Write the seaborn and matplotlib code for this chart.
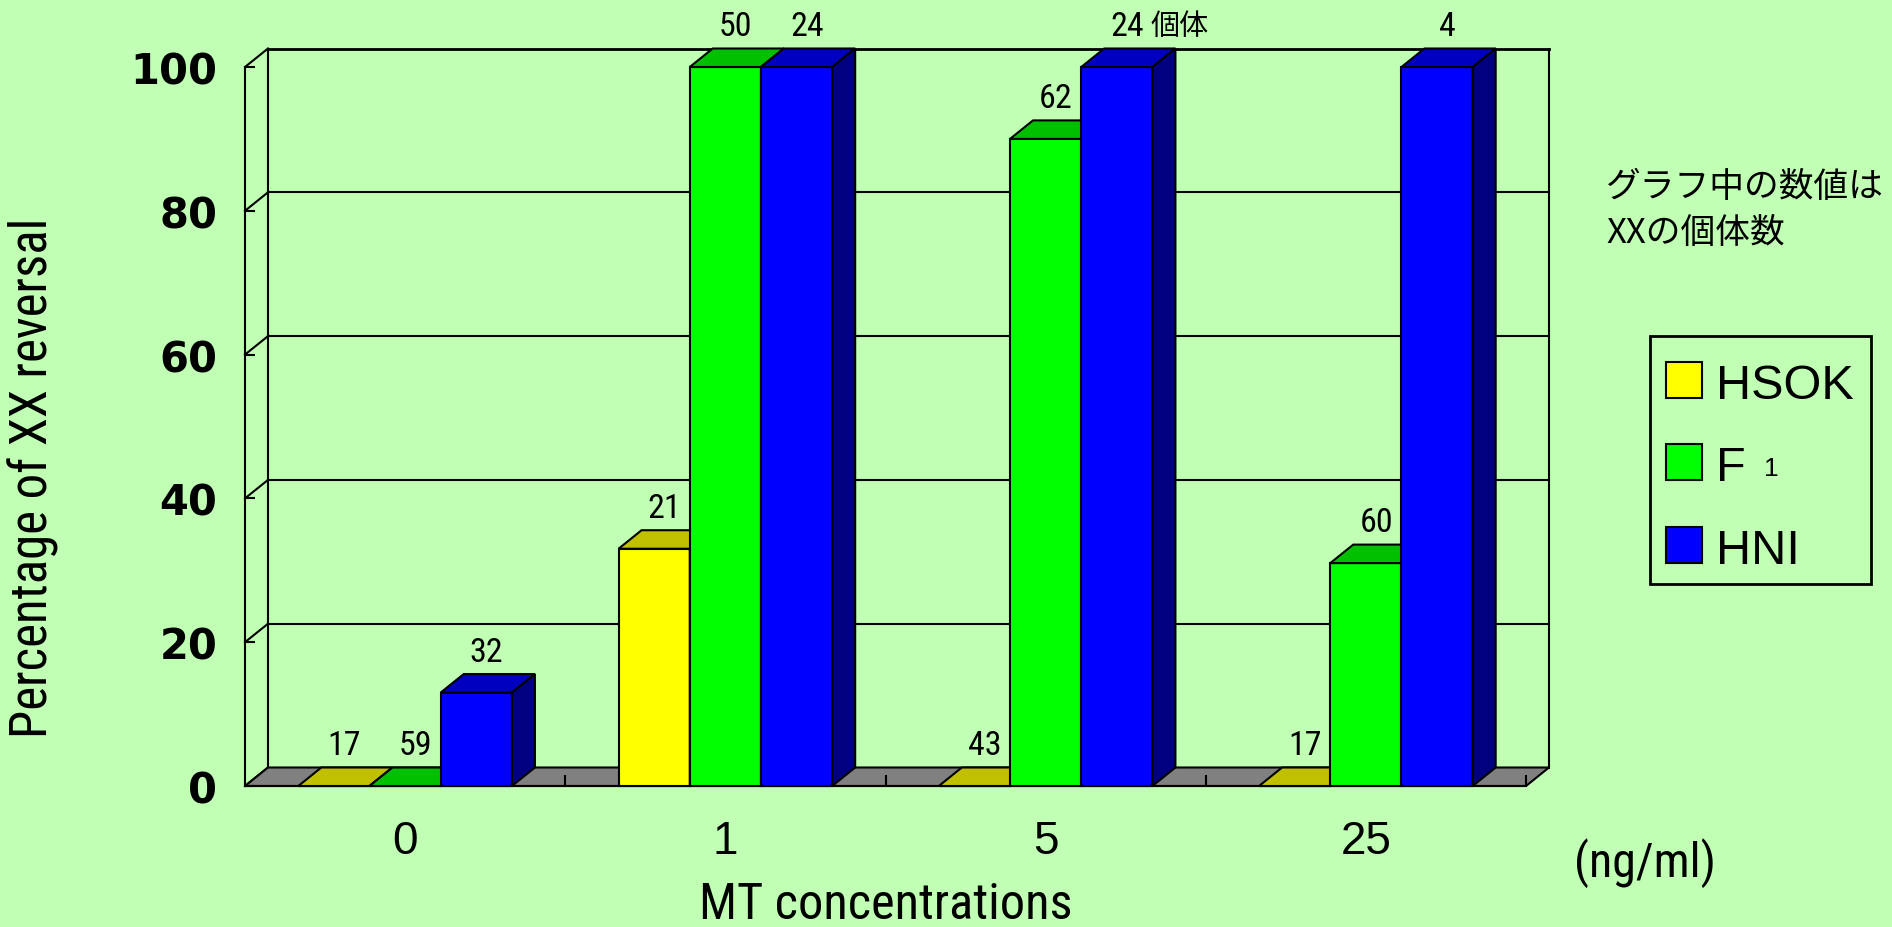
import numpy as np
import pandas as pd
import seaborn as sns
import matplotlib
matplotlib.use('Agg')
import matplotlib.pyplot as plt
from matplotlib.patches import Polygon, Rectangle
from matplotlib import font_manager
from matplotlib.font_manager import FontProperties

# data
concs = ['0', '1', '5', '25']
strains = ['HSOK', 'F1', 'HNI']
hsok_pct = [0, 33, 0, 0]
f1_pct = [0, 100, 90, 31]
hni_pct = [13, 100, 100, 100]
# number of XX individuals written above each bar
hsok_n = [17, 21, 43, 17]
f1_n = [59, 50, 62, 60]
hni_n = [32, 24, 24, 4]
yticks = [0, 20, 40, 60, 80, 100]
legend_labels = ['HSOK', 'F', 'HNI']
legend_sub = ['', '1', '']
unit_suffix = '個体'
suffix_bar = ('5', 'HNI')
note_lines = ['グラフ中の数値は', 'XXの個体数']

front_colors = ['#FFFF00', '#00FF00', '#0000FF']
top_colors = ['#C0C000', '#00C000', '#0000C0']
side_colors = ['#808000', '#008000', '#000080']
floor_color = '#808080'
bg = '#C0FFB4'


def narrow_file():
    # look for an Arial Narrow-like face
    fl = font_manager.fontManager.ttflist
    ok = lambda f: f.style == 'normal' and f.weight in (400, 'normal', 'regular')
    for want in ['Liberation Sans Narrow', 'Roboto Condensed', 'Open Sans Condensed']:
        for f in fl:
            if f.name == want and ok(f):
                return f.fname
    for f in fl:
        if ('Narrow' in f.name or 'Condensed' in f.name) and ok(f):
            return f.fname
    for f in fl:
        if f.name in ('Roboto', 'Liberation Sans', 'DejaVu Sans') and ok(f) \
                and 'condensed' in str(f.stretch) and 'semi' not in str(f.stretch):
            return f.fname
    return None


nf = narrow_file()
def narrow(size):
    if nf:
        return FontProperties(fname=nf, size=size)
    return FontProperties(family='Liberation Sans', size=size)


plt.rcParams['font.family'] = ['Liberation Sans', 'Noto Sans CJK JP']

df = pd.DataFrame({
    'conc': concs * 3,
    'strain': np.repeat(strains, len(concs)),
    'pct': hsok_pct + f1_pct + hni_pct,
})
counts = [hsok_n, f1_n, hni_n]

W, H = 1892, 928
fig = plt.figure(figsize=(W / 100, H / 100), dpi=100, facecolor=bg)
ax = fig.add_axes([245 / W, 1 - 787 / H, (1526 - 245) / W, (787 - 68) / H])
ax.patch.set_visible(False)

sns.barplot(data=df, x='conc', y='pct', hue='strain', order=concs, hue_order=strains,
            palette=front_colors, saturation=1, width=0.667, edgecolor='black',
            linewidth=1.5, legend=False, ax=ax)
ax.set_xlim(-0.5, len(concs) - 0.5)
ax.set_ylim(0, 100)

# depth of the fake 3d box, pixels -> data units
ax_w = (1526 - 245)
ax_h = (787 - 68)
dx = 23 / (ax_w / len(concs))
dy = 18.5 / (ax_h / 100)
x_lo, x_hi = -0.5, len(concs) - 0.5

lkw = dict(color='black', lw=1.5, clip_on=False, zorder=0.5)
# back wall + side wall grid
ax.plot([x_lo + dx, x_lo + dx], [dy, 100 + dy], **lkw)
ax.plot([x_hi + dx, x_hi + dx], [dy, 100 + dy], **lkw)
for v in yticks:
    ax.plot([x_lo, x_lo + dx], [v, v + dy], **lkw)
    if v > 0:
        ax.plot([x_lo + dx, x_hi + dx], [v + dy, v + dy], color='black',
                lw=2 if v == 100 else 1.5, clip_on=False, zorder=0.5)

floor = Polygon([(x_lo, 0), (x_hi, 0), (x_hi + dx, dy), (x_lo + dx, dy)],
                closed=True, facecolor=floor_color, edgecolor='black', lw=1.5,
                clip_on=False, zorder=1)
ax.add_patch(floor)

count_texts = []
suffix_anchor = None
for j, cont in enumerate(ax.containers):
    for i, bar in enumerate(cont.patches):
        k = i * len(strains) + j
        x0, w, h = bar.get_x(), bar.get_width(), bar.get_height()
        bar.set_zorder(3 + 2 * k)
        bar.set_clip_on(False)
        top = Polygon([(x0, h), (x0 + w, h), (x0 + w + dx, h + dy), (x0 + dx, h + dy)],
                      closed=True, facecolor=top_colors[j], edgecolor='black', lw=1.5,
                      clip_on=False, zorder=3.5 + 2 * k)
        side = Polygon([(x0 + w, 0), (x0 + w + dx, dy), (x0 + w + dx, h + dy), (x0 + w, h)],
                       closed=True, facecolor=side_colors[j], edgecolor='black', lw=1.5,
                       clip_on=False, zorder=3.5 + 2 * k)
        ax.add_patch(top)
        ax.add_patch(side)
        xc = x0 + w / 2 + 0.45 * dx
        t = ax.annotate(str(counts[j][i]), (xc, h + dy), xytext=(0, 16), textcoords='offset points',
                        ha='center', va='center', fontproperties=narrow(22),
                        annotation_clip=False, zorder=60)
        count_texts.append(t)
        if (concs[i], strains[j]) == suffix_bar:
            suffix_anchor = t

# axes
for s in ['top', 'right']:
    ax.spines[s].set_visible(False)
for s in ['left', 'bottom']:
    ax.spines[s].set_linewidth(1.5)
    ax.spines[s].set_zorder(2)
ax.set_yticks(yticks)
ax.set_yticklabels([str(v) for v in yticks], fontweight='bold', family='DejaVu Sans', fontsize=30)
ax.tick_params(axis='y', direction='in', length=7, width=1.5, pad=20)
ax.set_xticks(range(len(concs)))
ax.set_xticklabels(concs, fontsize=33)
ax.set_xticks(np.arange(len(concs)) + 0.5, minor=True)
ax.tick_params(axis='x', which='major', length=0, pad=24)
ax.tick_params(axis='x', which='minor', direction='in', length=8, width=1.5)

ax.set_ylabel('Percentage of XX reversal', fontproperties=narrow(33))
ax.yaxis.label.set_verticalalignment('center')
ax.yaxis.set_label_coords(-0.165, 0.43)
ax.set_xlabel('MT concentrations', fontproperties=narrow(33))
ax.xaxis.label.set_va('center')
ax.xaxis.set_label_coords(0.5, -0.164)

unit_txt = fig.text(1645 / W, 1 - 863 / H, '(ng/ml)', fontproperties=narrow(33),
                    ha='center', va='center')
for n, line in enumerate(note_lines):
    fig.text(1606 / W, 1 - (187 + 46 * n) / H, line, family=['Noto Sans CJK JP'],
             fontsize=25, ha='left', va='center')

# legend box drawn by hand (pixel layout)
fig.add_artist(Rectangle((1650 / W, 1 - 585 / H), (1871 - 1650) / W, (585 - 337) / H,
                         transform=fig.transFigure, facecolor='none', edgecolor='black',
                         lw=2, zorder=10))
legend_rows = [381, 463, 546]
leg_texts = []
for c, lab, cy in zip(front_colors, legend_labels, legend_rows):
    fig.add_artist(Rectangle((1666 / W, 1 - (cy + 18) / H), 36 / W, 36 / H,
                             transform=fig.transFigure, facecolor=c, edgecolor='black',
                             lw=1.5, zorder=10))
    leg_texts.append(fig.text(1716 / W, 1 - (cy + 18) / H, lab, family='Liberation Sans',
                              fontsize=35, ha='left', va='baseline', zorder=10))

# fit the narrow texts to the widths seen in the reference
fig.canvas.draw()
r = fig.canvas.get_renderer()
yl = ax.yaxis.label
k = 521 / yl.get_window_extent(r).height
yl.set_fontsize(33 * k)
xl = ax.xaxis.label
xl.set_fontsize(33 * 374 / xl.get_window_extent(r).width)
unit_txt.set_fontsize(33 * 142 / unit_txt.get_window_extent(r).width)
for t in count_texts:
    t.set_fontsize(22 * k)

fig.canvas.draw()
bb = suffix_anchor.get_window_extent(r)
fig.text((bb.x1 + 7) / W, (bb.y0 + bb.y1) / 2 / H, unit_suffix, family=['Noto Sans CJK JP'],
         fontsize=21, ha='left', va='center', zorder=60)
for t, sub, cy in zip(leg_texts, legend_sub, legend_rows):
    if sub:
        bb = t.get_window_extent(r)
        fig.text((bb.x1 + 18) / W, 1 - (cy + 13) / H, sub, fontsize=19,
                 ha='left', va='baseline', zorder=10)

fig.savefig('out.png', dpi=100, facecolor=bg)
